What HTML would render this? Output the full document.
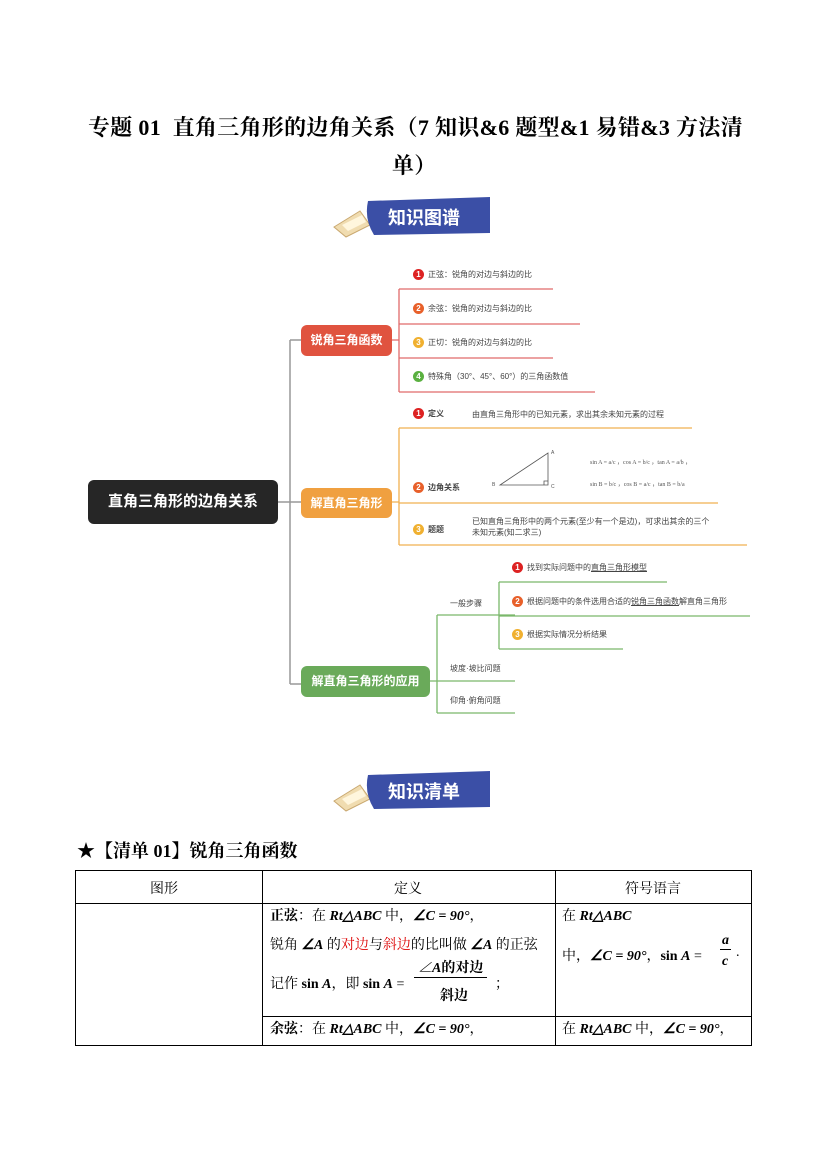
<!DOCTYPE html>
<html><head><meta charset="utf-8"><style>
body{margin:0;width:827px;height:1169px;background:#fff;position:relative;overflow:hidden;font-family:"Liberation Sans","Noto Sans CJK SC",sans-serif}
.a{position:absolute;white-space:nowrap}
.t{font-family:"Liberation Serif","Noto Serif CJK SC",serif;font-weight:bold;font-size:22px;color:#000;letter-spacing:0.3px}
.s{font-size:8px;color:#444}
.n{color:#fff;font-weight:bold;border-radius:6px;text-align:center;font-size:12px}
.c{display:inline-block;width:11px;height:11px;border-radius:50%;color:#fff;font-size:8px;line-height:11px;text-align:center;font-weight:bold;vertical-align:middle;margin-right:4px}
.tb{font-family:"Liberation Serif","Noto Serif CJK SC",serif;font-size:14px;color:#000}
.m{font-weight:bold;font-style:italic;font-family:"Liberation Serif",serif}
</style></head><body>
<div class="a t" style="left:88px;top:111px">专题 01&nbsp; 直角三角形的边角关系（7 知识&amp;6 题型&amp;1 易错&amp;3 方法清</div>
<div class="a t" style="left:392px;top:149px">单）</div>

<svg class="a" style="left:330px;top:195px" width="165" height="45"><path d="M4 32 L30 16 L40 30 L16 42 Z" fill="#f0dcb0" stroke="#c9a870"/><path d="M12 30 L32 20 L36 27 L18 36Z" fill="#fff6dd"/><path d="M38 6 L160 2 L160 38 L44 40 Q34 24 38 6Z" fill="#3b4fa6"/></svg>
<div class="a" style="left:388px;top:204px;color:#fff;font-size:18px;font-weight:bold">知识图谱</div>
<svg class="a" style="left:330px;top:769px" width="165" height="45"><path d="M4 32 L30 16 L40 30 L16 42 Z" fill="#f0dcb0" stroke="#c9a870"/><path d="M12 30 L32 20 L36 27 L18 36Z" fill="#fff6dd"/><path d="M38 6 L160 2 L160 38 L44 40 Q34 24 38 6Z" fill="#3b4fa6"/></svg>
<div class="a" style="left:388px;top:778px;color:#fff;font-size:18px;font-weight:bold">知识清单</div>

<svg class="a" style="left:0;top:0" width="827" height="760" fill="none">
<g stroke="#999" stroke-width="1.5">
<path d="M278 502 H290 M290 340 V684 M290 340 H301 M290 502 H301 M290 684 H301"/>
</g>
<g stroke="#e06a6a" stroke-width="1.3"><path d="M392 340 H399 M399 289 V392 M399 289 H553 M399 324 H580 M399 358 H553 M399 392 H595"/></g>
<g stroke="#f0b050" stroke-width="1.3"><path d="M392 502 H399 M399 428 V545 M399 428 H460 M460 428 H692 M399 503 H718 M399 545 H747"/></g>
<g stroke="#7ab86a" stroke-width="1.3"><path d="M430 681 H437 M437 615 V713 M437 615 H515 M437 681 H515 M437 713 H515 M499 582 V649 M499 582 H667 M499 616 H750 M499 649 H623"/></g>
<g stroke="#555" stroke-width="0.8"><path d="M500 485 L548 485 L548 453 Z M544 485 V481 H548"/></g>
</svg>

<div class="a n" style="left:88px;top:480px;width:190px;height:44px;line-height:44px;background:#262626;font-size:15px">直角三角形的边角关系</div>
<div class="a n" style="left:301px;top:325px;width:91px;height:31px;line-height:31px;background:#e0533f">锐角三角函数</div>
<div class="a n" style="left:301px;top:488px;width:91px;height:30px;line-height:30px;background:#f0a040">解直角三角形</div>
<div class="a n" style="left:301px;top:666px;width:129px;height:31px;line-height:31px;background:#6aaa5a">解直角三角形的应用</div>

<div class="a s" style="left:413px;top:269px"><span class="c" style="background:#d22">1</span>正弦：锐角的对边与斜边的比</div>
<div class="a s" style="left:413px;top:303px"><span class="c" style="background:#e8602a">2</span>余弦：锐角的对边与斜边的比</div>
<div class="a s" style="left:413px;top:337px"><span class="c" style="background:#f0b030">3</span>正切：锐角的对边与斜边的比</div>
<div class="a s" style="left:413px;top:371px"><span class="c" style="background:#5ab040">4</span>特殊角（30°、45°、60°）的三角函数值</div>

<div class="a s" style="left:413px;top:408px"><span class="c" style="background:#d22">1</span><b>定义</b></div>
<div class="a s" style="left:472px;top:409px">由直角三角形中的已知元素，求出其余未知元素的过程</div>
<div class="a s" style="left:413px;top:482px"><span class="c" style="background:#e8602a">2</span><b>边角关系</b></div>
<div class="a s" style="left:413px;top:524px"><span class="c" style="background:#f0b030">3</span><b>题题</b></div>
<div class="a s" style="left:472px;top:516px;line-height:11px">已知直角三角形中的两个元素(至少有一个是边)，可求出其余的三个<br>未知元素(知二求三)</div>
<div class="a" style="left:590px;top:452px;font-size:6px;color:#555;font-family:'Liberation Serif',serif;line-height:22px">sin A = a/c ，cos A = b/c ，tan A = a/b ，<br>sin B = b/c ，cos B = a/c ，tan B = b/a</div>
<div class="a" style="left:492px;top:482px;font-size:5px;color:#555">B</div>
<div class="a" style="left:551px;top:450px;font-size:5px;color:#555">A</div>
<div class="a" style="left:551px;top:484px;font-size:5px;color:#555">C</div>

<div class="a s" style="left:450px;top:598px">一般步骤</div>
<div class="a s" style="left:512px;top:562px"><span class="c" style="background:#d22">1</span>找到实际问题中的<u>直角三角形模型</u></div>
<div class="a s" style="left:512px;top:596px"><span class="c" style="background:#e8602a">2</span>根据问题中的条件选用合适的<u>锐角三角函数</u>解直角三角形</div>
<div class="a s" style="left:512px;top:629px"><span class="c" style="background:#f0b030">3</span>根据实际情况分析结果</div>
<div class="a s" style="left:450px;top:663px">坡度·坡比问题</div>
<div class="a s" style="left:450px;top:695px">仰角·俯角问题</div>

<div class="a" style="left:77px;top:837px;font-family:'Liberation Serif','Noto Serif CJK SC',serif;font-weight:bold;font-size:18px">★【清单 01】锐角三角函数</div>

<div class="a" style="left:75px;top:870px;width:677px;height:176px;border:1px solid #000;box-sizing:border-box"></div>
<div class="a" style="left:262px;top:870px;width:1px;height:176px;background:#000"></div>
<div class="a" style="left:555px;top:870px;width:1px;height:176px;background:#000"></div>
<div class="a" style="left:75px;top:903px;width:677px;height:1px;background:#000"></div>
<div class="a" style="left:262px;top:1016px;width:490px;height:1px;background:#000"></div>
<div class="a tb" style="left:150px;top:878px">图形</div>
<div class="a tb" style="left:394px;top:878px">定义</div>
<div class="a tb" style="left:625px;top:878px">符号语言</div>
<div class="a tb" style="left:270px;top:905px"><b>正弦</b>：在 <span class="m">Rt△ABC</span> 中，<span class="m">∠C = 90°</span>，</div>
<div class="a tb" style="left:270px;top:934px">锐角 <span class="m">∠A</span> 的<span style="color:#d00">对边</span>与<span style="color:#d00">斜边</span>的比叫做 <span class="m">∠A</span> 的正弦</div>
<div class="a tb" style="left:270px;top:973px">记作 <b>sin <i>A</i></b>，即 <b>sin <i>A</i></b> =</div>
<div class="a tb" style="left:414px;top:957px;font-weight:bold;border-bottom:1px solid #000;padding:0 4px"><i>∠A</i>的对边</div>
<div class="a tb" style="left:440px;top:985px;font-weight:bold">斜边</div>
<div class="a tb" style="left:495px;top:973px">；</div>
<div class="a tb" style="left:562px;top:905px">在 <span class="m">Rt△ABC</span></div>
<div class="a tb" style="left:562px;top:945px">中，<span class="m">∠C = 90°</span>，<b>sin <i>A</i></b> =</div>
<div class="a tb" style="left:720px;top:933px;font-weight:bold;font-style:italic;border-bottom:1px solid #000;padding:0 2px">a</div>
<div class="a tb" style="left:722px;top:954px;font-weight:bold;font-style:italic">c</div>
<div class="a tb" style="left:736px;top:945px">.</div>
<div class="a tb" style="left:270px;top:1018px"><b>余弦</b>：在 <span class="m">Rt△ABC</span> 中，<span class="m">∠C = 90°</span>，</div>
<div class="a tb" style="left:562px;top:1018px">在 <span class="m">Rt△ABC</span> 中，<span class="m">∠C = 90°</span>，</div>
</body></html>
